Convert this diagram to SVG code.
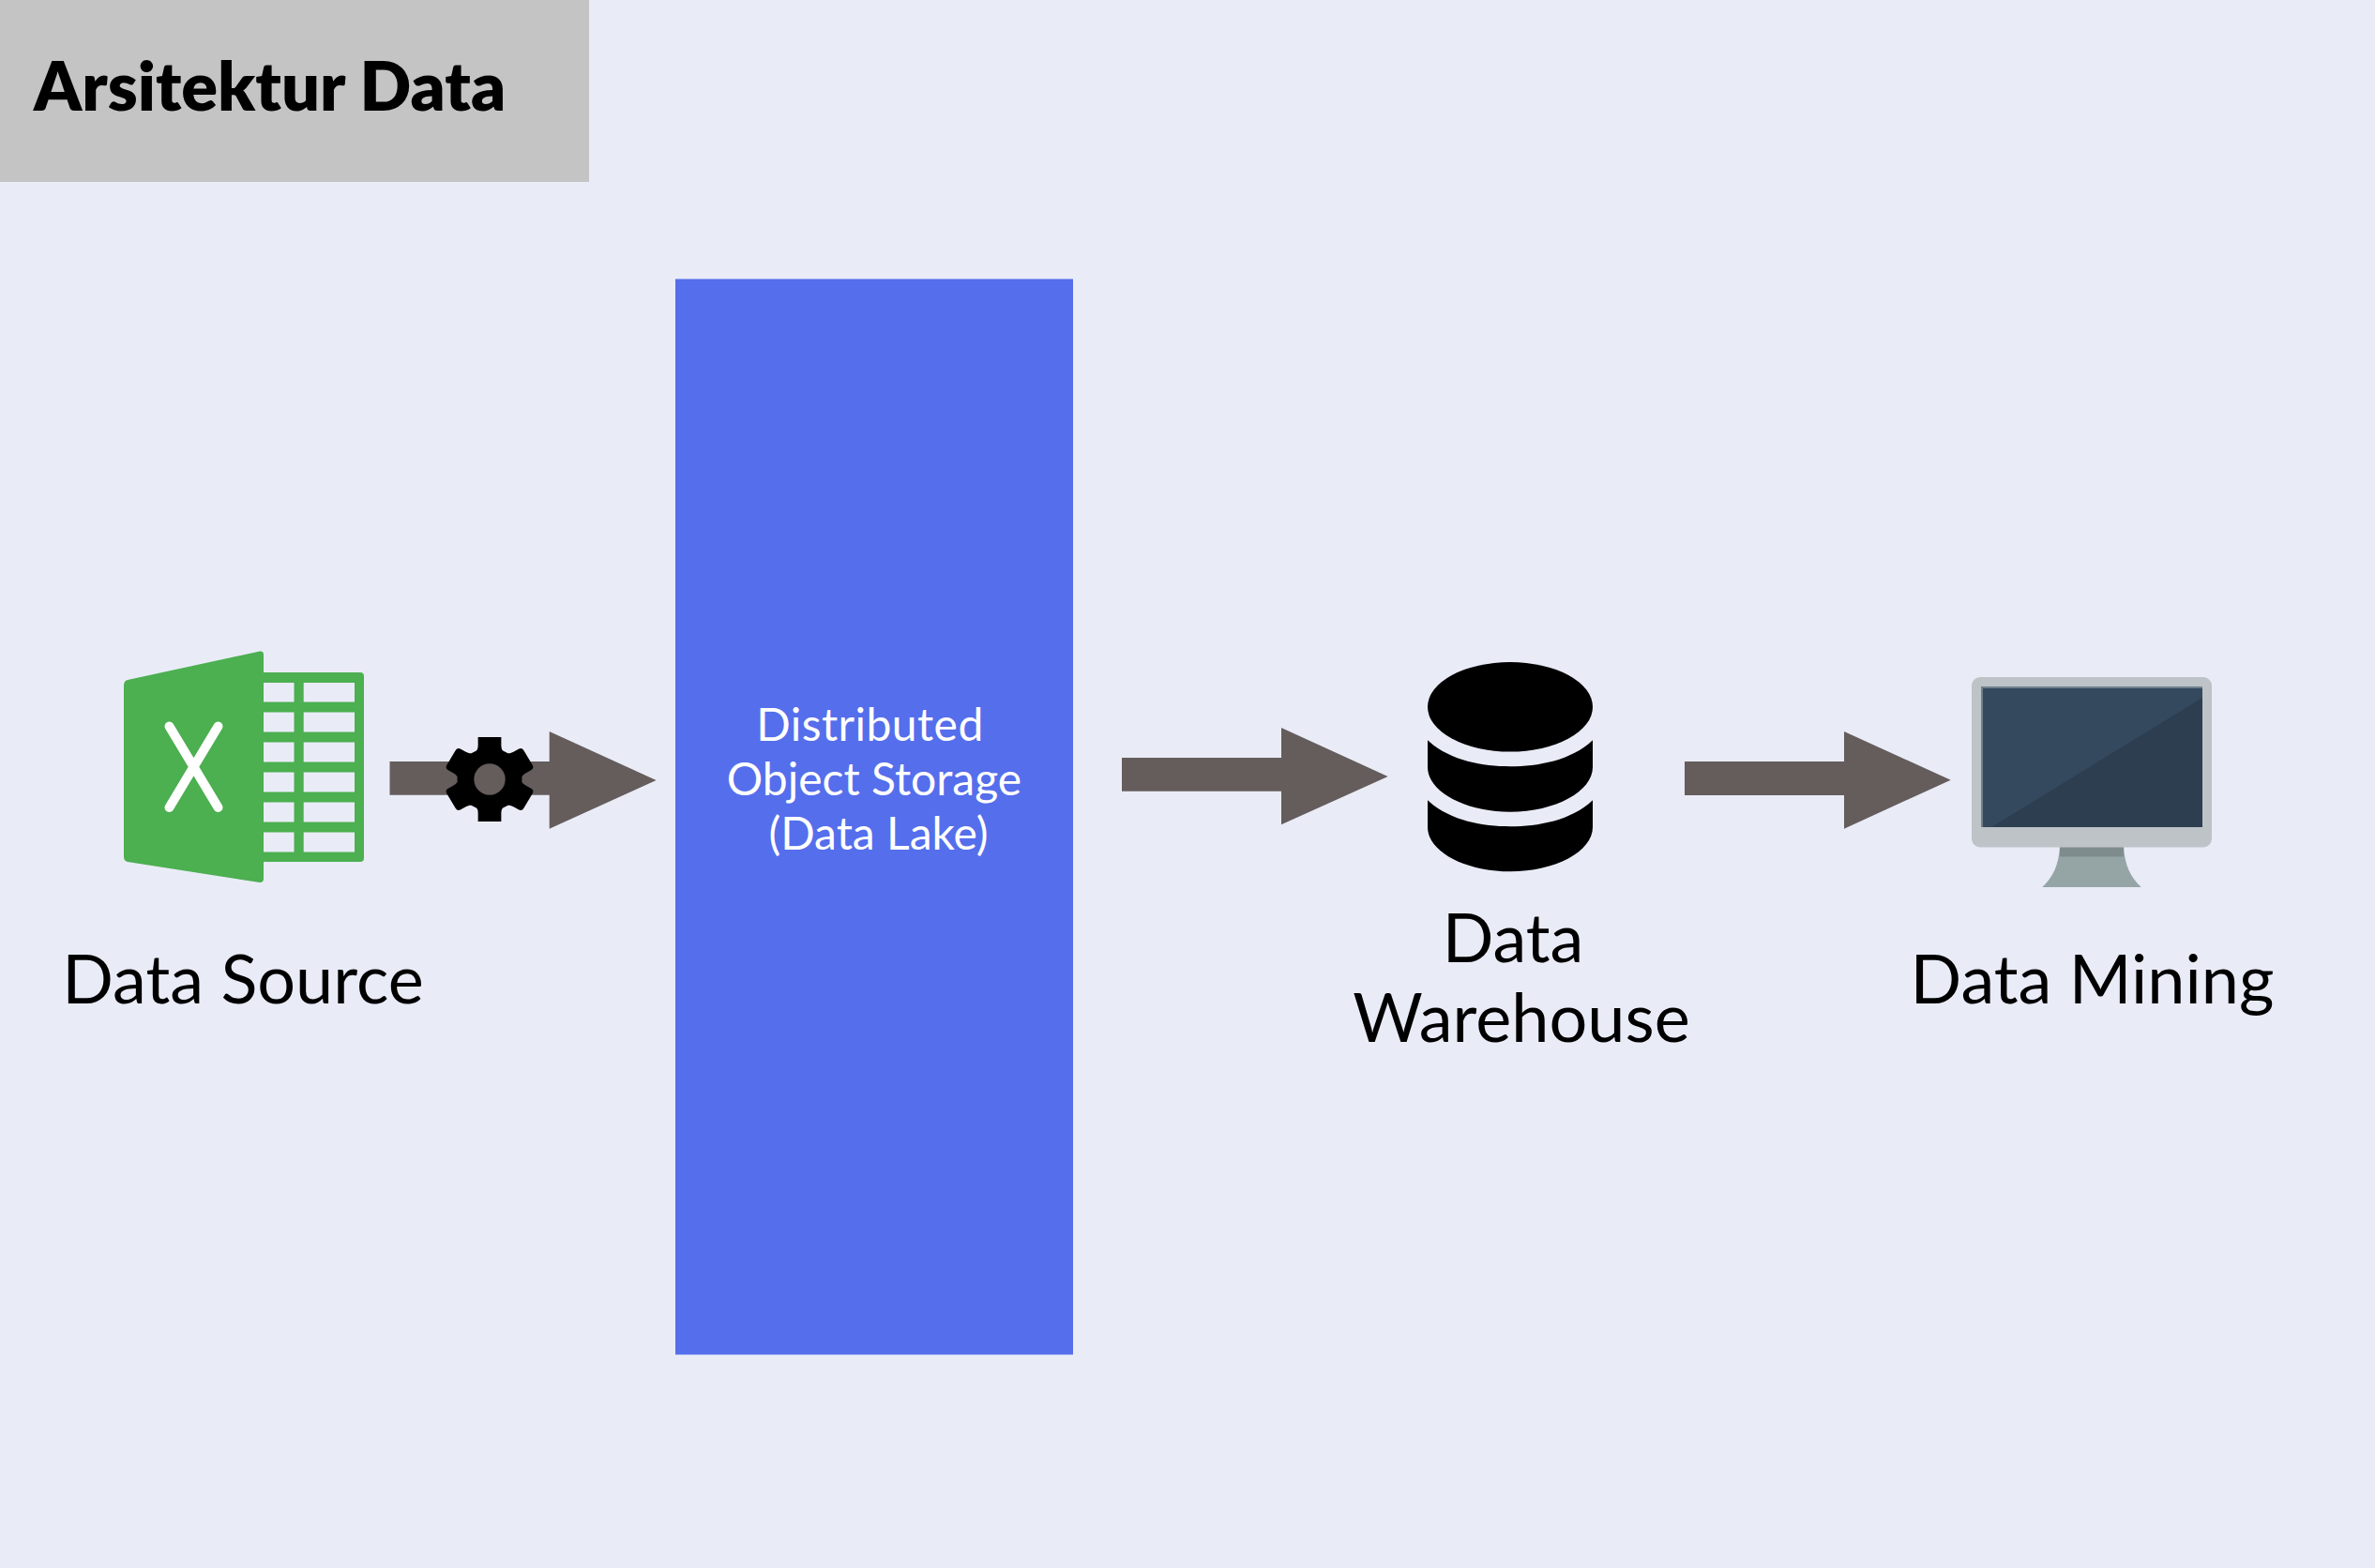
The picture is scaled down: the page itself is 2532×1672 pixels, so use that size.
<svg xmlns="http://www.w3.org/2000/svg" width="2532" height="1672" viewBox="0 0 2532 1672">
<style>
text{font-family:Lato,"Liberation Sans",sans-serif}
.l{font-size:72px;fill:#000}
.w{font-size:48px;fill:#fff}
.t{font-size:72px;font-weight:800;fill:#000}
.a{fill:#655c5c}
.g{fill:#4caf50}
.c{fill:#e9ecf7}
</style>
<defs>
<path id="tooth" d="M-18,-27 Q-12,-29 -12,-36 L-12,-45 L12,-45 L12,-36 Q12,-29 18,-27 Z"/>
<path id="lobe" d="M-18,-27 Q-13,-29 -13,-36 L-13,-42 Q-13,-46 -9,-46 L9,-46 Q13,-46 13,-42 L13,-36 Q13,-29 18,-27 Z"/>
</defs>
<rect width="2532" height="1672" fill="#e9ecf7"/>
<g id="title"><rect width="628" height="194" fill="#c4c4c4"/><text class="t" x="36" y="117.5">Arsitektur Data</text></g>
<g id="connectors">
<path class="a" d="M415.5,812H585.7V780L699.6,832L585.7,883.7V847.7H415.5Z"/>
<path class="a" d="M1196,808H1366V776L1479.7,828L1366,879.3V843.7H1196Z"/>
<path class="a" d="M1796,812H1966V780L2079.7,831.7L1966,883.7V848H1796Z"/>
</g>
<g id="gear" transform="translate(522,831)">
<g transform="scale(1.03,1)">
<circle r="33.500"/>
<use href="#tooth"/><use href="#lobe" transform="rotate(60)"/><use href="#lobe" transform="rotate(120)"/><use href="#tooth" transform="rotate(180)"/><use href="#lobe" transform="rotate(240)"/><use href="#lobe" transform="rotate(300)"/>
</g>
<circle class="a" r="16.700"/>
</g>
<g id="data-source">
<path class="g" d="M136,725L277,694.500Q281,694 281,698V717H384Q388,717 388,721V915Q388,919 384,919H281V937Q281,941 277,941L136,919Q132,918 132,914V731Q132,726 136,725Z"/>
<path class="c" d="M281,728h32.500v20.500h-32.500zM323.700,728h54.300v20.500h-54.300zM281,759.500h32.500v21h-32.500zM323.700,759.500h54.300v21h-54.300zM281,791.500h32.500v21h-32.500zM323.700,791.500h54.300v21h-54.300zM281,823.500h32.500v21h-32.500zM323.700,823.500h54.300v21h-54.300zM281,855.500h32.500v21h-32.500zM323.700,855.500h54.300v21h-54.300zM281,887.500h32.500v21h-32.500zM323.700,887.500h54.300v21h-54.300z"/>
<path d="M180.500,774.500L232.500,861M232.500,774.500L180.500,861" fill="none" stroke="#fff" stroke-width="10" stroke-linecap="round"/>
<text class="l" x="259" y="1069.500" text-anchor="middle">Data Source</text>
</g>
<g id="data-lake"><rect x="720" y="297.500" width="424" height="1147" fill="#556eec"/>
<text class="w" x="927.500" y="790" text-anchor="middle" letter-spacing="0.45">Distributed</text>
<text class="w" x="932" y="848" text-anchor="middle">Object Storage</text>
<text class="w" x="936.500" y="906" text-anchor="middle">(Data Lake)</text>
</g>
<g id="data-warehouse">
<ellipse cx="1610" cy="753.800" rx="88" ry="47.800"/>
<path d="M1522,789.300C1545,811 1580,817.300 1610,817.300C1640,817.300 1675,811 1698,789.300V818C1698,844 1658,865.700 1610,865.700C1562,865.700 1522,844 1522,818Z"/>
<path d="M1522,853.300C1545,875 1580,881.300 1610,881.300C1640,881.300 1675,875 1698,853.300V882C1698,908 1658,929.300 1610,929.300C1562,929.300 1522,908 1522,882Z"/>
<text class="l" x="1613" y="1025.500" text-anchor="middle">Data</text>
<text class="l" x="1622" y="1111" text-anchor="middle">Warehouse</text>
</g>
<g id="data-mining">
<path fill="#95a5a6" d="M2196,902H2264C2265,922 2271,935 2282.700,946H2177.300C2189,935 2195,922 2196,902Z"/>
<rect x="2196" y="902" width="68" height="11.500" fill="#7f8c8d"/>
<rect x="2102" y="722" width="256" height="181.500" rx="9" fill="#bdc3c7"/>
<rect x="2112" y="732" width="236" height="150" fill="#6f7f8c"/>
<rect x="2114" y="734" width="234" height="148" fill="#34495e"/>
<path fill="#2c3e50" d="M2348,744V882H2123.300Z"/>
<text class="l" x="2230.500" y="1069.500" text-anchor="middle">Data Mining</text>
</g>
</svg>
